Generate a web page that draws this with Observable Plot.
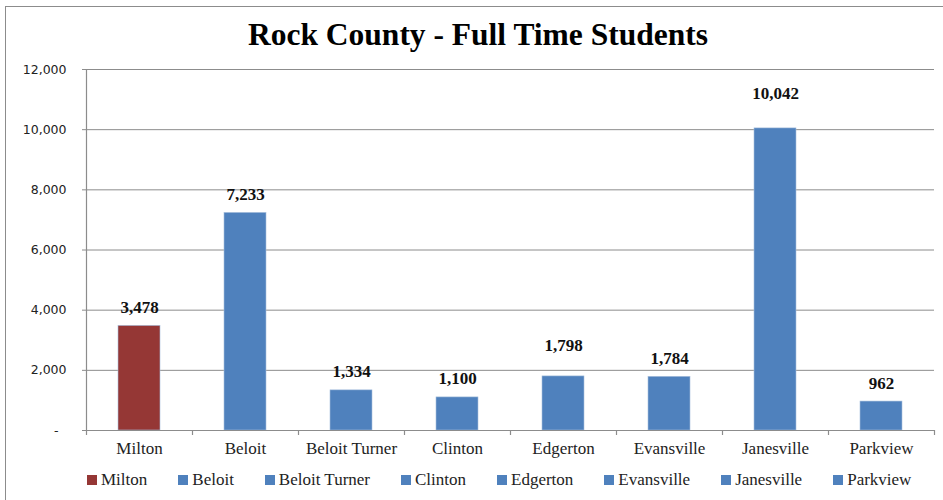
<!DOCTYPE html>
<html>
<head>
<meta charset="utf-8">
<script src="https://cdn.jsdelivr.net/npm/d3@7"></script>
<script src="https://cdn.jsdelivr.net/npm/@observablehq/plot@0.6"></script>
<style>
  html, body { margin: 0; padding: 0; background: #fff; }
  #wrap { position: relative; width: 943px; height: 500px; overflow: hidden; background: #fff; }
  #frame { position: absolute; left: 5px; top: 6px; width: 960px; height: 520px; border-left: 1.5px solid #8c8c8c; border-top: 1.5px solid #8c8c8c; pointer-events: none; }
  #title { position: absolute; left: 0; width: 956px; top: 15px; text-align: center; font-family: "Liberation Serif", serif; font-weight: bold; font-size: 31.5px; line-height: 40px; color: #000; }
  #legend { position: absolute; left: 87px; top: 469px; display: flex; gap: 31px; font-family: "Liberation Serif", serif; font-size: 17px; line-height: 22px; color: #222; }
  #legend .item { display: flex; align-items: center; }
  #legend .sw { width: 10px; height: 10px; margin-right: 4px; }
  #chart { position: absolute; left: 0; top: 0; }
</style>
</head>
<body>
<div id="wrap">
  <div id="chart"></div>
  <div id="frame"></div>
  <div id="title">Rock County - Full Time Students</div>
  <div id="legend"></div>
</div>
<script>
const categories = ["Milton", "Beloit", "Beloit Turner", "Clinton", "Edgerton", "Evansville", "Janesville", "Parkview"];
const students = [3478, 7233, 1334, 1100, 1798, 1784, 10042, 962];
const barColors = ["#953735", "#4F81BD", "#4F81BD", "#4F81BD", "#4F81BD", "#4F81BD", "#4F81BD", "#4F81BD"];
const yTicks = [0, 2000, 4000, 6000, 8000, 10000, 12000];
// extra upward shift (px) of some value labels, as placed in the original
const labelExtraLift = [0, 0, 0, 0, 12, 0, 16, 0];

const data = categories.map((c, i) => ({category: c, value: students[i], color: barColors[i], lift: labelExtraLift[i]}));
const fmt = d3.format(",");
const serif = "Liberation Serif";

const lifts = [...new Set(labelExtraLift)];
const labelMarks = lifts.map(l => Plot.text(data.filter(d => d.lift === l), {
  x: "category", y: "value", text: d => fmt(d.value), dy: -13 - l, lineAnchor: "bottom",
  fontFamily: serif, fontWeight: "bold", fontSize: 17, fill: "#111"
}));

const plot = Plot.plot({
  width: 943,
  height: 500,
  marginLeft: 86,
  marginRight: 9,
  marginTop: 69,
  marginBottom: 70,
  style: {background: "transparent", overflow: "visible"},
  x: {domain: categories, paddingInner: 0.6, paddingOuter: 0.3, axis: null},
  y: {domain: [0, 12000], axis: null},
  color: {type: "identity"},
  marks: [
    Plot.gridY(yTicks.filter(d => d > 0), {stroke: "#8c8c8c", strokeOpacity: 1, strokeWidth: 1}),
    Plot.axisY(yTicks, {
      label: null,
      tickSize: 4, tickPadding: 16, stroke: "#8c8c8c",
      tickFormat: d => d === 0 ? "-\u2007" : fmt(d),
      fontFamily: "DejaVu Sans", fontSize: 12.5, fill: "#222"
    }),
    Plot.barY(data, {x: "category", y: "value", fill: "color", stroke: "#a7bfdc", strokeWidth: 0.6}),
    Plot.ruleY([0], {stroke: "#8c8c8c", strokeWidth: 1.2}),
    Plot.frame({anchor: "left", stroke: "#8c8c8c", strokeWidth: 1.2}),
    Plot.ruleX(data, {x: "category", y1: 0, y2: 0, dx: -53, insetBottom: -5, stroke: "#8c8c8c", strokeWidth: 1.2}),
    Plot.ruleX(data.slice(-1), {x: "category", y1: 0, y2: 0, dx: 53, insetBottom: -5, stroke: "#8c8c8c", strokeWidth: 1.2}),
    Plot.axisX({label: null, tickSize: 0, tickPadding: 11, fontFamily: serif, fontSize: 17, fill: "#222"}),
    ...labelMarks
  ]
});
document.getElementById("chart").appendChild(plot);

const legend = document.getElementById("legend");
categories.forEach((c, i) => {
  const item = document.createElement("div");
  item.className = "item";
  const sw = document.createElement("span");
  sw.className = "sw";
  sw.style.background = barColors[i];
  const lab = document.createElement("span");
  lab.textContent = c;
  item.appendChild(sw);
  item.appendChild(lab);
  legend.appendChild(item);
});
</script>
</body>
</html>
